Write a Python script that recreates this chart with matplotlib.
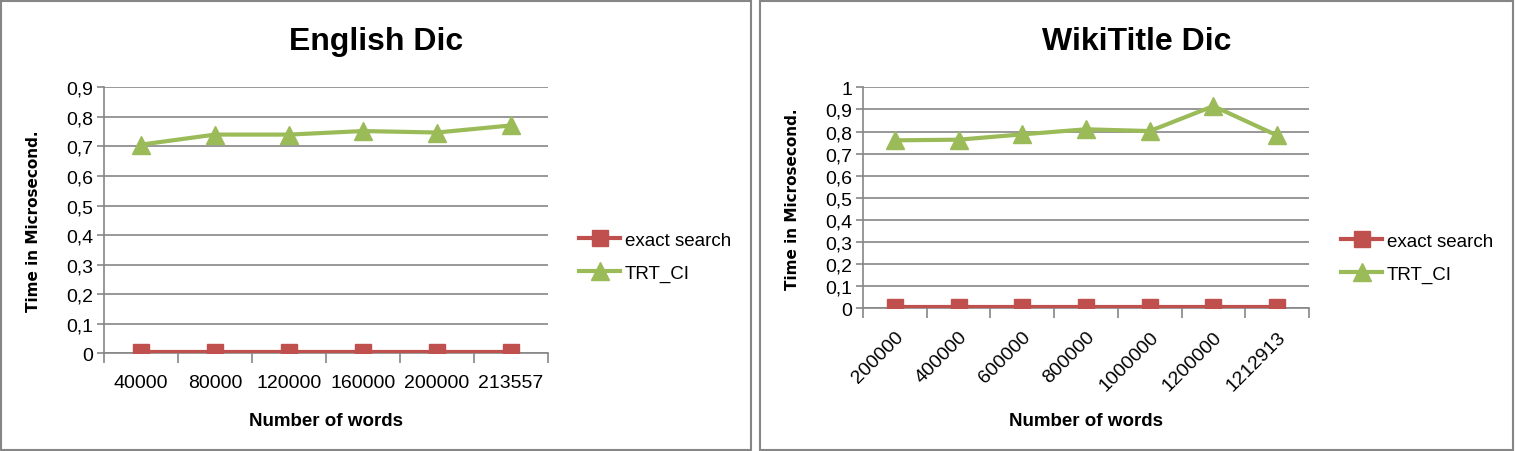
import matplotlib
matplotlib.use("Agg")
import matplotlib.pyplot as plt
import numpy as np
from matplotlib.patches import Rectangle

# data
eng_words = ["40000", "80000", "120000", "160000", "200000", "213557"]
eng_exact = [0.005, 0.005, 0.005, 0.005, 0.005, 0.005]
eng_trt = [0.706, 0.740, 0.740, 0.752, 0.747, 0.771]

wiki_words = ["200000", "400000", "600000", "800000", "1000000", "1200000", "1212913"]
wiki_exact = [0.005, 0.005, 0.005, 0.005, 0.005, 0.005, 0.005]
wiki_trt = [0.760, 0.763, 0.787, 0.810, 0.802, 0.915, 0.782]

RED = "#C0504D"
GREEN = "#9BBB59"
GRAY = "#868686"

plt.rcParams["font.family"] = ["Liberation Sans", "DejaVu Sans"]


def comma(v):
    s = ("%.1f" % v).replace(".", ",")
    if s.endswith(",0"):
        s = s[:-2]
    return s


def draw(fig, rect, words, exact, trt, ymax, rotate, xlab_y, legend_xy):
    ax = fig.add_axes(rect)
    n = len(words)
    x = np.arange(n)
    l1, = ax.plot(x, exact, color=RED, lw=3, marker="s", ms=12, label="exact search", zorder=3)
    l2, = ax.plot(x, trt, color=GREEN, lw=3, marker="^", ms=13, label="TRT_CI", zorder=3)
    ax.set_xlim(-0.5, n - 0.5)
    ax.set_ylim(0, ymax)
    yt = np.round(np.arange(0, ymax + 0.001, 0.1), 1)
    ax.set_yticks(yt)
    ax.set_yticklabels([comma(v) for v in yt], fontsize=14)
    ax.yaxis.grid(True, color=GRAY, lw=1.2)
    ax.set_axisbelow(True)
    for s in ["top", "right"]:
        ax.spines[s].set_visible(False)
    ax.spines["left"].set_color(GRAY)
    ax.spines["bottom"].set_color(GRAY)
    ax.spines["left"].set_linewidth(1.2)
    ax.spines["bottom"].set_linewidth(1.2)
    ax.tick_params(axis="y", length=5, color=GRAY, width=1.2, pad=3)
    # category ticks at bin edges, labels at centers
    ax.set_xticks(np.arange(n + 1) - 0.5)
    ax.set_xticklabels([])
    ax.tick_params(axis="x", which="major", length=7, color=GRAY, width=1.2, direction="out")
    ax.set_xticks(x, minor=True)
    if rotate:
        ax.set_xticklabels(words, minor=True, fontsize=14, rotation=45,
                           ha="right", rotation_mode="anchor")
        ax.tick_params(axis="x", which="minor", length=0, pad=14)
    else:
        ax.set_xticklabels(words, minor=True, fontsize=14)
        ax.tick_params(axis="x", which="minor", length=0, pad=15)
    ax.set_ylabel("Time in Microsecond.", family="DejaVu Sans", fontweight="bold", fontsize=11)
    ax.yaxis.set_label_coords(-0.142, 0.5)
    ax.set_xlabel("Number of words", fontweight="bold", fontsize=13.5)
    ax.xaxis.set_label_coords(0.5, xlab_y)
    fig.legend(handles=[l1, l2], loc="center left", bbox_to_anchor=legend_xy,
               frameon=False, fontsize=13.5, handlelength=2.2, handletextpad=0.25,
               labelspacing=0.85, borderpad=0, borderaxespad=0)
    return ax


def main():
    W, H = 1516, 452
    fig = plt.figure(figsize=(W / 100, H / 100), dpi=100)

    # panel frames
    fig.patches.append(Rectangle((1 / W, 1 / H), 750 / W, 449 / H, transform=fig.transFigure,
                                 fill=False, ec=GRAY, lw=1.5))
    fig.patches.append(Rectangle((760 / W, 1 / H), 753 / W, 449 / H, transform=fig.transFigure,
                                 fill=False, ec=GRAY, lw=1.5))

    draw(fig, [104 / W, 1 - 354.3 / H, 444 / W, 266 / H], eng_words, eng_exact, eng_trt,
         0.9, False, -0.22, (579 / W, 1 - 258 / H))
    draw(fig, [863 / W, 1 - 309.3 / H, 446 / W, 221 / H], wiki_words, wiki_exact, wiki_trt,
         1.0, True, -0.469, (1341 / W, 1 - 259 / H))

    fig.text(376 / W, 1 - 42 / H, "English Dic", ha="center", va="center",
             fontsize=23, fontweight="bold")
    fig.text(1137 / W, 1 - 42 / H, "WikiTitle Dic", ha="center", va="center",
             fontsize=23, fontweight="bold")

    fig.savefig("out.png", dpi=100)


if __name__ == "__main__":
    main()
